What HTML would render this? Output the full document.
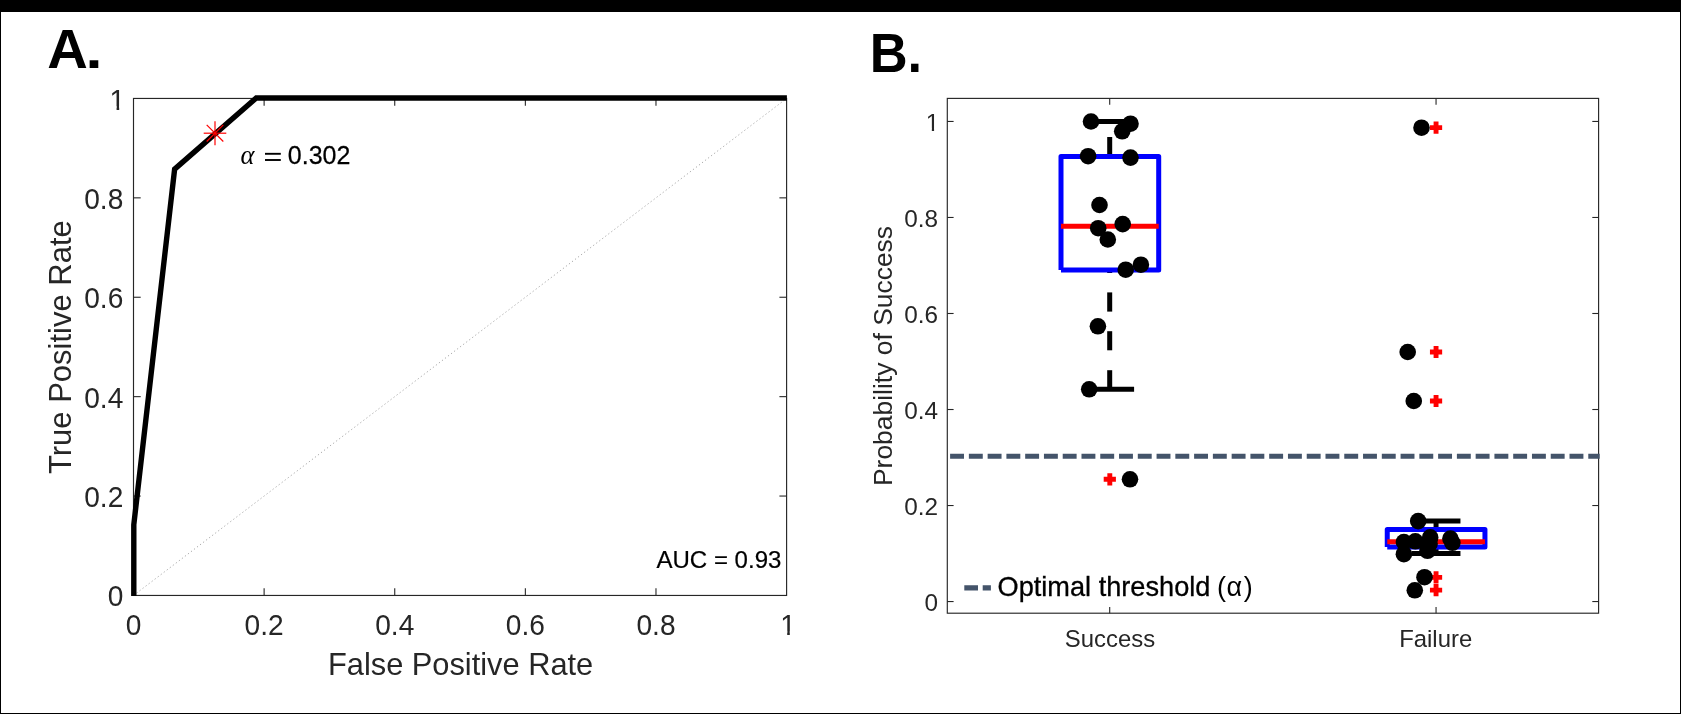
<!DOCTYPE html>
<html lang="en">
<head>
<meta charset="utf-8">
<title>ROC curve and probability of success</title>
<style>
html,body{margin:0;padding:0;background:#fff;}
body{width:1681px;height:714px;overflow:hidden;position:relative;font-family:"Liberation Sans", sans-serif;}
</style>
</head>
<body>
<svg width="1681" height="714" viewBox="0 0 1681 714" style="position:absolute;left:0;top:0;will-change:transform" font-family='"Liberation Sans", sans-serif'>
<rect x="0" y="0" width="1681" height="714" fill="#fff"/>
<text transform="translate(47.30 67.90) scale(1.06 1.045)" font-size="53.0" fill="#000" text-anchor="start" font-weight="bold">A</text>
<text transform="translate(85.55 67.90) scale(1.2 1.0)" font-size="51.0" fill="#000" text-anchor="start" font-weight="bold">.</text>
<text transform="translate(869.70 71.80) scale(1.0 1.045)" font-size="52.5" fill="#000" text-anchor="start" font-weight="bold">B.</text>
<line x1="133.5" y1="595.45" x2="786.6" y2="98.44999999999999" stroke="#adadad" stroke-width="1" stroke-dasharray="1.3 2.5"/>
<rect x="133.5" y="98.45" width="653.1" height="497.00000000000006" fill="none" stroke="#262626" stroke-width="1.15"/>
<text transform="translate(133.50 634.50) scale(1.0 1.04)" font-size="28.1" fill="#262626" text-anchor="middle">0</text>
<text transform="translate(123.30 606.45) scale(1.0 1.04)" font-size="28.1" fill="#262626" text-anchor="end">0</text>
<line x1="264.12" y1="595.45" x2="264.12" y2="588.25" stroke="#262626" stroke-width="1.1"/>
<line x1="264.12" y1="98.45" x2="264.12" y2="105.65" stroke="#262626" stroke-width="1.1"/>
<line x1="133.5" y1="496.05" x2="140.7" y2="496.05" stroke="#262626" stroke-width="1.1"/>
<line x1="786.6" y1="496.05" x2="779.4" y2="496.05" stroke="#262626" stroke-width="1.1"/>
<text transform="translate(264.12 634.50) scale(1.0 1.04)" font-size="28.1" fill="#262626" text-anchor="middle">0.2</text>
<text transform="translate(123.30 507.05) scale(1.0 1.04)" font-size="28.1" fill="#262626" text-anchor="end">0.2</text>
<line x1="394.74" y1="595.45" x2="394.74" y2="588.25" stroke="#262626" stroke-width="1.1"/>
<line x1="394.74" y1="98.45" x2="394.74" y2="105.65" stroke="#262626" stroke-width="1.1"/>
<line x1="133.5" y1="396.65" x2="140.7" y2="396.65" stroke="#262626" stroke-width="1.1"/>
<line x1="786.6" y1="396.65" x2="779.4" y2="396.65" stroke="#262626" stroke-width="1.1"/>
<text transform="translate(394.74 634.50) scale(1.0 1.04)" font-size="28.1" fill="#262626" text-anchor="middle">0.4</text>
<text transform="translate(123.30 407.65) scale(1.0 1.04)" font-size="28.1" fill="#262626" text-anchor="end">0.4</text>
<line x1="525.36" y1="595.45" x2="525.36" y2="588.25" stroke="#262626" stroke-width="1.1"/>
<line x1="525.36" y1="98.45" x2="525.36" y2="105.65" stroke="#262626" stroke-width="1.1"/>
<line x1="133.5" y1="297.25" x2="140.7" y2="297.25" stroke="#262626" stroke-width="1.1"/>
<line x1="786.6" y1="297.25" x2="779.4" y2="297.25" stroke="#262626" stroke-width="1.1"/>
<text transform="translate(525.36 634.50) scale(1.0 1.04)" font-size="28.1" fill="#262626" text-anchor="middle">0.6</text>
<text transform="translate(123.30 308.25) scale(1.0 1.04)" font-size="28.1" fill="#262626" text-anchor="end">0.6</text>
<line x1="655.98" y1="595.45" x2="655.98" y2="588.25" stroke="#262626" stroke-width="1.1"/>
<line x1="655.98" y1="98.45" x2="655.98" y2="105.65" stroke="#262626" stroke-width="1.1"/>
<line x1="133.5" y1="197.85" x2="140.7" y2="197.85" stroke="#262626" stroke-width="1.1"/>
<line x1="786.6" y1="197.85" x2="779.4" y2="197.85" stroke="#262626" stroke-width="1.1"/>
<text transform="translate(655.98 634.50) scale(1.0 1.04)" font-size="28.1" fill="#262626" text-anchor="middle">0.8</text>
<text transform="translate(123.30 208.85) scale(1.0 1.04)" font-size="28.1" fill="#262626" text-anchor="end">0.8</text>
<clipPath id="one1" clipPathUnits="userSpaceOnUse"><path d="M-9.81,-33.72H9.81V-3.22H1.79V2H-0.80V-3.22H-9.81Z"/></clipPath>
<text transform="translate(788.00 634.50) scale(1 1.04)" font-size="28.1" fill="#262626" text-anchor="middle" clip-path="url(#one1)">1</text>
<clipPath id="one2" clipPathUnits="userSpaceOnUse"><path d="M-17.63,-33.72H2.00V-3.22H-6.02V2H-8.62V-3.22H-17.63Z"/></clipPath>
<text transform="translate(125.20 109.55) scale(1 1.04)" font-size="28.1" fill="#262626" text-anchor="end" clip-path="url(#one2)">1</text>
<text transform="translate(460.60 674.80) scale(1.0 1.04)" font-size="30.8" fill="#262626" text-anchor="middle">False Positive Rate</text>
<text transform="translate(71.30 347.10) rotate(-90) scale(1.0 1.035)" font-size="31.02" fill="#262626" text-anchor="middle">True Positive Rate</text>
<polyline points="133.80,595.90 133.80,524.78 174.62,169.17 256.26,98.05 786.90,98.05" fill="none" stroke="#000" stroke-width="5.4" stroke-linejoin="miter" stroke-linecap="butt"/>
<g stroke="#ff0000" stroke-width="1.2" fill="none"><line x1="203.7" y1="133.2" x2="226.3" y2="133.2"/><line x1="215.0" y1="121.19999999999999" x2="215.0" y2="145.2"/><line x1="206.7" y1="124.89999999999999" x2="223.3" y2="141.5"/><line x1="206.7" y1="141.5" x2="223.3" y2="124.89999999999999"/></g>
<text transform="translate(240.60 163.80)" font-size="26.6" fill="#000" text-anchor="start" font-style="italic" font-family='"Liberation Serif", serif'>α</text>
<rect x="265" y="152.85" width="15.8" height="1.9" fill="#000"/>
<rect x="265" y="159.05" width="15.8" height="1.9" fill="#000"/>
<text transform="translate(287.80 163.80) scale(1.0 1.03)" font-size="25" fill="#000" text-anchor="start" stroke="#000" stroke-width="0.25">0.302</text>
<text transform="translate(781.40 568.40) scale(1.0 1.015)" font-size="24.05" fill="#000" text-anchor="end" stroke="#000" stroke-width="0.2">AUC = 0.93</text>
<rect x="947.3" y="98.4" width="651.3" height="514.8000000000001" fill="none" stroke="#262626" stroke-width="1.15"/>
<line x1="947.3" y1="601.55" x2="953.5999999999999" y2="601.55" stroke="#262626" stroke-width="1.1"/>
<line x1="1598.6" y1="601.55" x2="1592.3" y2="601.55" stroke="#262626" stroke-width="1.1"/>
<text transform="translate(938.00 611.40) scale(1.0 1.015)" font-size="24.35" fill="#262626" text-anchor="end">0</text>
<line x1="947.3" y1="505.53" x2="953.5999999999999" y2="505.53" stroke="#262626" stroke-width="1.1"/>
<line x1="1598.6" y1="505.53" x2="1592.3" y2="505.53" stroke="#262626" stroke-width="1.1"/>
<text transform="translate(938.00 515.38) scale(1.0 1.015)" font-size="24.35" fill="#262626" text-anchor="end">0.2</text>
<line x1="947.3" y1="409.51" x2="953.5999999999999" y2="409.51" stroke="#262626" stroke-width="1.1"/>
<line x1="1598.6" y1="409.51" x2="1592.3" y2="409.51" stroke="#262626" stroke-width="1.1"/>
<text transform="translate(938.00 419.36) scale(1.0 1.015)" font-size="24.35" fill="#262626" text-anchor="end">0.4</text>
<line x1="947.3" y1="313.49" x2="953.5999999999999" y2="313.49" stroke="#262626" stroke-width="1.1"/>
<line x1="1598.6" y1="313.49" x2="1592.3" y2="313.49" stroke="#262626" stroke-width="1.1"/>
<text transform="translate(938.00 323.34) scale(1.0 1.015)" font-size="24.35" fill="#262626" text-anchor="end">0.6</text>
<line x1="947.3" y1="217.46999999999997" x2="953.5999999999999" y2="217.46999999999997" stroke="#262626" stroke-width="1.1"/>
<line x1="1598.6" y1="217.46999999999997" x2="1592.3" y2="217.46999999999997" stroke="#262626" stroke-width="1.1"/>
<text transform="translate(938.00 227.32) scale(1.0 1.015)" font-size="24.35" fill="#262626" text-anchor="end">0.8</text>
<line x1="947.3" y1="121.44999999999999" x2="953.5999999999999" y2="121.44999999999999" stroke="#262626" stroke-width="1.1"/>
<line x1="1598.6" y1="121.44999999999999" x2="1592.3" y2="121.44999999999999" stroke="#262626" stroke-width="1.1"/>
<clipPath id="one3" clipPathUnits="userSpaceOnUse"><path d="M-15.54,-29.22H2.00V-2.79H-5.22V2H-7.47V-2.79H-15.54Z"/></clipPath>
<text transform="translate(939.30 131.30) scale(1 1.015)" font-size="24.35" fill="#262626" text-anchor="end" clip-path="url(#one3)">1</text>
<line x1="1109.7" y1="613.2" x2="1109.7" y2="606.9000000000001" stroke="#262626" stroke-width="1.1"/>
<line x1="1109.7" y1="98.4" x2="1109.7" y2="104.7" stroke="#262626" stroke-width="1.1"/>
<text transform="translate(1110.00 647.10)" font-size="23.9" fill="#262626" text-anchor="middle">Success</text>
<line x1="1436.05" y1="613.2" x2="1436.05" y2="606.9000000000001" stroke="#262626" stroke-width="1.1"/>
<line x1="1436.05" y1="98.4" x2="1436.05" y2="104.7" stroke="#262626" stroke-width="1.1"/>
<text transform="translate(1435.70 647.10)" font-size="23.9" fill="#262626" text-anchor="middle">Failure</text>
<text transform="translate(892.40 356.00) rotate(-90)" font-size="26.45" fill="#262626" text-anchor="middle">Probability of Success</text>
<line x1="1085.3" y1="121.5" x2="1134.1000000000001" y2="121.5" stroke="#000" stroke-width="5.0"/>
<line x1="1085.3" y1="389.3" x2="1134.1000000000001" y2="389.3" stroke="#000" stroke-width="5.0"/>
<line x1="1109.7" y1="137.0" x2="1109.7" y2="156.3" stroke="#000" stroke-width="5.0"/>
<line x1="1109.7" y1="270.0" x2="1109.7" y2="273.0" stroke="#000" stroke-width="5.0"/>
<line x1="1109.7" y1="292.4" x2="1109.7" y2="311.6" stroke="#000" stroke-width="5.0"/>
<line x1="1109.7" y1="331.2" x2="1109.7" y2="350.3" stroke="#000" stroke-width="5.0"/>
<line x1="1109.7" y1="370.2" x2="1109.7" y2="389.3" stroke="#000" stroke-width="5.0"/>
<polyline points="1061.0000000000002,270.0 1061.0000000000002,156.4 1158.7,156.4 1158.7,270.0 1061.0000000000002,270.0" fill="none" stroke="#0000ff" stroke-width="5.0" stroke-linejoin="round" stroke-linecap="butt"/>
<line x1="1061.0000000000002" y1="226.3" x2="1158.7" y2="226.3" stroke="#ff0000" stroke-width="5.0"/>
<line x1="1411.6499999999999" y1="521.0" x2="1460.45" y2="521.0" stroke="#000" stroke-width="5.0"/>
<line x1="1411.6499999999999" y1="553.6" x2="1460.45" y2="553.6" stroke="#000" stroke-width="5.0"/>
<line x1="1436.05" y1="521.0" x2="1436.05" y2="529.5" stroke="#000" stroke-width="5.0"/>
<line x1="1436.05" y1="547.0" x2="1436.05" y2="553.6" stroke="#000" stroke-width="5.0"/>
<polyline points="1387.25,547.0 1387.25,529.6 1484.9499999999998,529.6 1484.9499999999998,547.0 1387.25,547.0" fill="none" stroke="#0000ff" stroke-width="5.0" stroke-linejoin="round" stroke-linecap="butt"/>
<line x1="1387.25" y1="541.8" x2="1484.9499999999998" y2="541.8" stroke="#ff0000" stroke-width="5.0"/>
<line x1="950.1" y1="456.2" x2="1599.7" y2="456.2" stroke="#44546a" stroke-width="4.9" stroke-dasharray="13.9 4.87"/>
<path d="M1103.7,479.3H1115.8999999999999M1109.8,473.2V485.40000000000003" stroke="#ff0000" stroke-width="4.9" fill="none"/>
<path d="M1429.95,127.6H1442.1499999999999M1436.05,121.5V133.7" stroke="#ff0000" stroke-width="4.9" fill="none"/>
<path d="M1429.95,352.0H1442.1499999999999M1436.05,345.9V358.1" stroke="#ff0000" stroke-width="4.9" fill="none"/>
<path d="M1429.95,401.0H1442.1499999999999M1436.05,394.9V407.1" stroke="#ff0000" stroke-width="4.9" fill="none"/>
<path d="M1429.95,577.4H1442.1499999999999M1436.05,571.3V583.5" stroke="#ff0000" stroke-width="4.9" fill="none"/>
<path d="M1429.95,590.1H1442.1499999999999M1436.05,584.0V596.2" stroke="#ff0000" stroke-width="4.9" fill="none"/>
<circle cx="1091.0" cy="121.5" r="8.3" fill="#000"/>
<circle cx="1130.5" cy="123.7" r="8.3" fill="#000"/>
<circle cx="1122.2" cy="131.3" r="8.3" fill="#000"/>
<circle cx="1088.1" cy="156.2" r="8.3" fill="#000"/>
<circle cx="1130.5" cy="157.6" r="8.3" fill="#000"/>
<circle cx="1099.5" cy="205.0" r="8.3" fill="#000"/>
<circle cx="1098.2" cy="228.2" r="8.3" fill="#000"/>
<circle cx="1122.7" cy="224.1" r="8.3" fill="#000"/>
<circle cx="1107.8" cy="239.5" r="8.3" fill="#000"/>
<circle cx="1125.7" cy="269.7" r="8.3" fill="#000"/>
<circle cx="1140.9" cy="264.7" r="8.3" fill="#000"/>
<circle cx="1097.9" cy="326.3" r="8.3" fill="#000"/>
<circle cx="1089.2" cy="389.3" r="8.3" fill="#000"/>
<circle cx="1130.0" cy="479.3" r="8.3" fill="#000"/>
<circle cx="1421.5" cy="127.7" r="8.3" fill="#000"/>
<circle cx="1407.7" cy="352.0" r="8.3" fill="#000"/>
<circle cx="1413.75" cy="401.0" r="8.3" fill="#000"/>
<circle cx="1418.2" cy="521.1" r="8.3" fill="#000"/>
<circle cx="1403.9" cy="542.0" r="8.3" fill="#000"/>
<circle cx="1415.3" cy="541.3" r="8.3" fill="#000"/>
<circle cx="1430.2" cy="537.4" r="8.3" fill="#000"/>
<circle cx="1429.6" cy="543.7" r="8.3" fill="#000"/>
<circle cx="1450.4" cy="538.6" r="8.3" fill="#000"/>
<circle cx="1452.4" cy="542.8" r="8.3" fill="#000"/>
<circle cx="1403.9" cy="554.2" r="8.3" fill="#000"/>
<circle cx="1427.5" cy="550.8" r="8.3" fill="#000"/>
<circle cx="1424.5" cy="577.2" r="8.3" fill="#000"/>
<circle cx="1414.8" cy="590.3" r="8.3" fill="#000"/>
<line x1="964.3" y1="587.9" x2="990.9" y2="587.9" stroke="#44546a" stroke-width="5.1" stroke-dasharray="13.7 4.7"/>
<text transform="translate(997.55 595.70)" font-size="27.17" fill="#000" text-anchor="start" stroke="#000" stroke-width="0.3">Optimal threshold</text>
<text transform="translate(1217.00 595.70)" font-size="27.0" fill="#000" text-anchor="start">(</text>
<text transform="translate(1226.60 595.70)" font-size="27.0" fill="#000" text-anchor="start">α</text>
<text transform="translate(1243.70 595.70)" font-size="27.0" fill="#000" text-anchor="start">)</text>
<rect x="0" y="0" width="1681" height="12" fill="#000"/>
<rect x="0" y="0" width="1" height="714" fill="#000"/>
<rect x="1680" y="0" width="1" height="714" fill="#000"/>
<rect x="0" y="713" width="1681" height="1" fill="#000"/>
</svg>
</body>
</html>
